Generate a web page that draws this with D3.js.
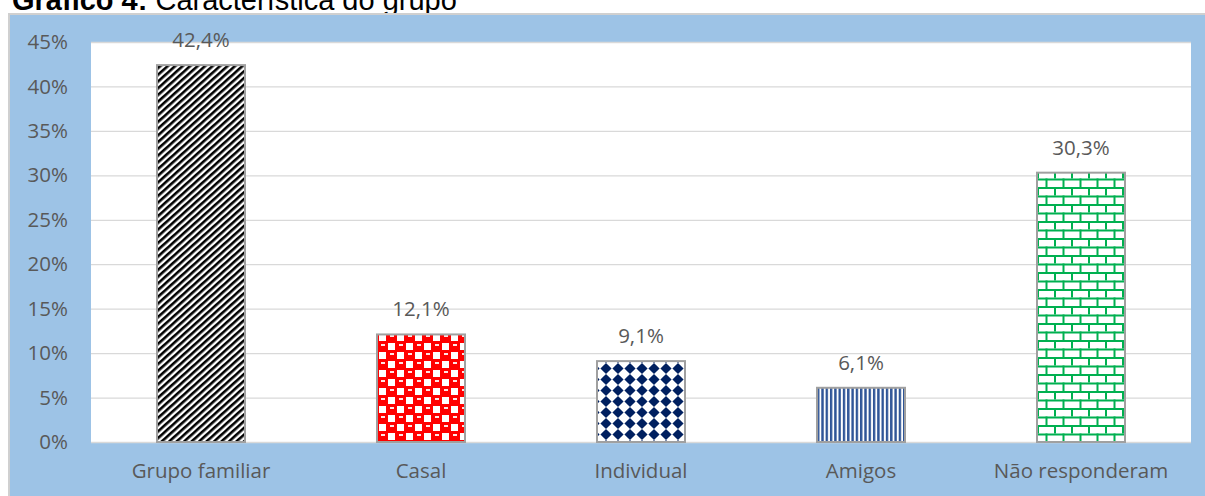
<!DOCTYPE html>
<html>
<head>
<meta charset="utf-8">
<title>Gráfico 4</title>
<script src="https://cdn.jsdelivr.net/npm/d3@7"></script>
<style>
  body { margin: 0; background: #fff; }
  svg { display: block; }
</style>
</head>
<body>
<svg id="chart" width="1205" height="496"></svg>
<script>
// data
var categories = ["Grupo familiar", "Casal", "Individual", "Amigos", "Não responderam"];
var values = [0.424, 0.121, 0.091, 0.061, 0.303];
var valueLabels = ["42,4%", "12,1%", "9,1%", "6,1%", "30,3%"];
var yTicks = [0, 0.05, 0.10, 0.15, 0.20, 0.25, 0.30, 0.35, 0.40, 0.45];
var patternIds = ["pStripe", "pChecker", "pDiamond", "pVert", "pBrick"];

var svg = d3.select("#chart");
var font = "'Open Sans', sans-serif";
var txt = "#595959";
var fs = 20.5;

// title (partly cut off at the top in the original)
var title = svg.append("text").attr("x", 12).attr("y", 10)
  .attr("font-family", "'Liberation Sans', Arial, sans-serif").attr("font-size", 29).attr("fill", "#000");
title.append("tspan").attr("font-weight", "bold").text("Gráfico 4:");
title.append("tspan").text(" Característica do grupo");

// outer frame
svg.append("rect").attr("x", 9).attr("y", 14).attr("width", 1200).attr("height", 490)
  .attr("fill", "#9dc3e6").attr("stroke", "#d0d0d0").attr("stroke-width", 2);

// patterns
var defs = svg.append("defs");

var p1 = defs.append("pattern").attr("id", "pStripe").attr("patternUnits", "userSpaceOnUse")
  .attr("width", 5).attr("height", 5).attr("patternTransform", "rotate(-42)");
p1.append("rect").attr("width", 5).attr("height", 5).attr("fill", "#fff");
p1.append("rect").attr("width", 5).attr("height", 2.6).attr("fill", "#000");

var p2 = defs.append("pattern").attr("id", "pChecker").attr("patternUnits", "userSpaceOnUse")
  .attr("width", 18).attr("height", 18);
p2.append("rect").attr("width", 18).attr("height", 18).attr("fill", "#ff0000");
[[9, 0], [0, 9]].forEach(function(o) {
  p2.append("rect").attr("x", o[0] + 1).attr("y", o[1] + 1).attr("width", 7).attr("height", 7).attr("fill", "#fff");
});
[[0, 0], [9, 9]].forEach(function(o) {
  p2.append("rect").attr("x", o[0] + 3).attr("y", o[1] + 2).attr("width", 4).attr("height", 2).attr("fill", "#ffe4e4");
});

var p3 = defs.append("pattern").attr("id", "pDiamond").attr("patternUnits", "userSpaceOnUse")
  .attr("width", 12).attr("height", 11);
p3.append("rect").attr("width", 12).attr("height", 11).attr("fill", "#fff");
p3.append("path").attr("d", "M6,0L11.6,5.5L6,11L0.4,5.5Z").attr("fill", "#002060");

var p4 = defs.append("pattern").attr("id", "pVert").attr("patternUnits", "userSpaceOnUse")
  .attr("width", 4.3).attr("height", 10);
p4.append("rect").attr("width", 4.3).attr("height", 10).attr("fill", "#fff");
p4.append("rect").attr("width", 2.4).attr("height", 10).attr("fill", "#2f5597");

var p5 = defs.append("pattern").attr("id", "pBrick").attr("patternUnits", "userSpaceOnUse")
  .attr("width", 17).attr("height", 17);
p5.append("rect").attr("width", 17).attr("height", 17).attr("fill", "#fff");
p5.append("rect").attr("x", 0).attr("y", 0).attr("width", 17).attr("height", 2).attr("fill", "#00b050");
p5.append("rect").attr("x", 0).attr("y", 8.5).attr("width", 17).attr("height", 2).attr("fill", "#00b050");
p5.append("rect").attr("x", 0).attr("y", 0).attr("width", 2).attr("height", 8.5).attr("fill", "#00b050");
p5.append("rect").attr("x", 8.5).attr("y", 8.5).attr("width", 2).attr("height", 8.5).attr("fill", "#00b050");

// scales
var x = d3.scaleBand().domain(categories).range([91, 1191]).paddingInner(0.6).paddingOuter(0.3);
var y = d3.scaleLinear().domain([0, 0.45]).range([442, 42]);

// plot area
svg.append("rect").attr("x", 91).attr("y", 42).attr("width", 1100).attr("height", 400).attr("fill", "#fff");

// gridlines + y labels
var yAxis = svg.append("g").attr("transform", "translate(91,0)")
  .call(d3.axisLeft(y).tickValues(yTicks).tickSize(-1100).tickPadding(23)
    .tickFormat(function(d) { return Math.round(d * 100) + "%"; }));
yAxis.select(".domain").remove();
yAxis.selectAll("line").attr("stroke", "#d9d9d9").attr("stroke-width", 1.3);
yAxis.selectAll("text").attr("font-family", font).attr("font-size", fs).attr("fill", txt);

// bars
svg.selectAll(".bar").data(values).enter().append("rect").attr("class", "bar")
  .attr("x", function(d, i) { return x(categories[i]); })
  .attr("y", function(d) { return y(d); })
  .attr("width", x.bandwidth())
  .attr("height", function(d) { return y(0) - y(d); })
  .attr("fill", function(d, i) { return "url(#" + patternIds[i] + ")"; })
  .attr("stroke", "#a0a0a0").attr("stroke-width", 2);

// value labels
svg.selectAll(".vlab").data(values).enter().append("text").attr("class", "vlab")
  .attr("x", function(d, i) { return x(categories[i]) + x.bandwidth() / 2; })
  .attr("y", function(d) { return y(d) - 18; })
  .attr("text-anchor", "middle").attr("font-family", font).attr("font-size", fs).attr("fill", txt)
  .text(function(d, i) { return valueLabels[i]; });

// category labels
var xAxis = svg.append("g").attr("transform", "translate(0,442)")
  .call(d3.axisBottom(x).tickSize(0).tickPadding(21));
xAxis.select(".domain").remove();
xAxis.selectAll("text").attr("font-family", font).attr("font-size", fs).attr("fill", txt);
</script>
</body>
</html>
